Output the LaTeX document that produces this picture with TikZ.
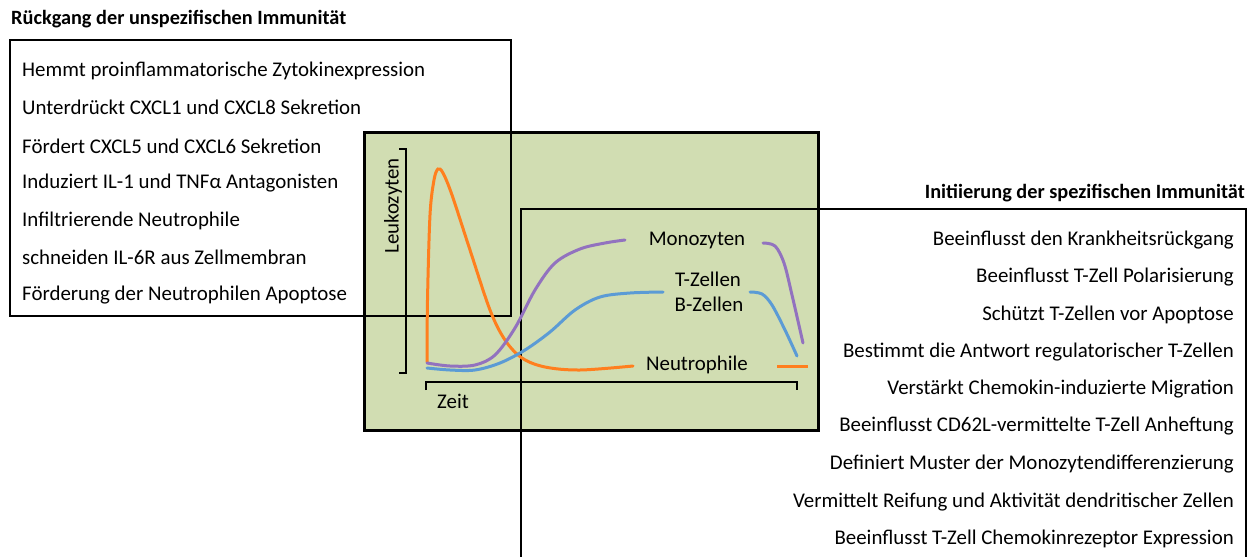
\documentclass[tikz,border=0pt]{standalone}
\usepackage{fontspec}
\setmainfont{Carlito}
\definecolor{boxgreen}{HTML}{D1DDB2}
\definecolor{corange}{HTML}{FF7F1E}
\definecolor{cpurple}{HTML}{9272BF}
\definecolor{cblue}{HTML}{5B9BD5}
\begin{document}
\begin{tikzpicture}[x=1pt,y=-1pt,
  txt/.style={inner sep=0pt,font=\fontsize{20.9}{22}\selectfont},
  ltxt/.style={txt,anchor=west},
  rtxt/.style={txt,anchor=east},
  ttl/.style={inner sep=0pt,font=\fontsize{20.3}{22}\selectfont\bfseries},
  frame/.style={draw=black,line width=2pt},
  curve/.style={line width=3pt,line cap=round},
  axis/.style={draw=black,line width=2.5pt}]
\useasboundingbox (0,0) rectangle (1256,557);
% green chart box
\draw[fill=boxgreen,draw=black,line width=3pt] (364,132) rectangle (818,430);
% left frame
\draw[frame] (10,40) rectangle (511,316);
% right frame
\draw[frame] (521,557) -- (521,209) -- (1246,209) -- (1246,557);
% axes
\coordinate (ytop) at (399,149);
\coordinate (ybot) at (399,373);
\draw[axis] (ytop) -- (406,149) -- (406,373) -- (ybot);
\coordinate (xl) at (426,390);
\coordinate (xr) at (797,390);
\draw[axis] (xl) -- (426,382) -- (797,382) -- (xr);
\node[txt,rotate=90] (leuko) at (393,206) {Leukozyten};
\node[txt] (zeit) at (453,401) {Zeit};
% curves
\draw[curve,corange] plot[smooth,tension=0.55] coordinates {(427,362) (427.5,300) (430,215) (434,180) (438,169) (443,173) (452,195) (470,250) (490,310) (505,340) (522,358) (545,367) (580,370) (633,366)};
\draw[curve,cpurple] plot[smooth,tension=0.55] coordinates {(427,363) (450,366) (475,365) (495,355) (515,328) (535,290) (555,263) (580,249) (605,243) (625,240)};
\draw[curve,cblue] plot[smooth,tension=0.55] coordinates {(427,368) (450,370) (475,370) (500,363) (525,350) (550,332) (575,310) (600,297) (630,293) (663,292)};
\draw[curve,cpurple] plot[smooth,tension=0.55] coordinates {(763,243) (775,246) (784,263) (792,295) (803,343)};
\draw[curve,cblue] plot[smooth,tension=0.55] coordinates {(750,292) (762,294) (772,305) (785,330) (797,356)};
\draw[curve,corange,line cap=butt] (777,366) -- (808,366);
% curve labels
\node[txt] (mono) at (697,240) {Monozyten};
\node[txt] (tz) at (708,279) {T-Zellen};
\node[txt] (bz) at (709,304) {B-Zellen};
\node[txt] (neut) at (697,365) {Neutrophile};
% titles
\node[ttl,anchor=west] (t1) at (11,19) {Rückgang der unspezifischen Immunität};
\node[ttl,anchor=east] (t2) at (1245,193) {Initiierung der spezifischen Immunität};
% left texts
\node[ltxt] (l1) at (22,71) {Hemmt proinflammatorische Zytokinexpression};
\node[ltxt] (l2) at (22,107) {Unterdrückt CXCL1 und CXCL8 Sekretion};
\node[ltxt] (l3) at (22,146) {Fördert CXCL5 und CXCL6 Sekretion};
\node[ltxt] (l4) at (22,183) {Induziert IL-1 und TNFα Antagonisten};
\node[ltxt] (l5) at (22,221) {Infiltrierende Neutrophile};
\node[ltxt] (l6) at (22,257) {schneiden IL-6R aus Zellmembran};
\node[ltxt] (l7) at (22,295) {Förderung der Neutrophilen Apoptose};
% right texts
\node[rtxt] (r1) at (1234,240) {Beeinflusst den Krankheitsrückgang};
\node[rtxt] (r2) at (1234,277) {Beeinflusst T-Zell Polarisierung};
\node[rtxt] (r3) at (1234,315) {Schützt T-Zellen vor Apoptose};
\node[rtxt] (r4) at (1234,352) {Bestimmt die Antwort regulatorischer T-Zellen};
\node[rtxt] (r5) at (1234,389) {Verstärkt Chemokin-induzierte Migration};
\node[rtxt] (r6) at (1234,426) {Beeinflusst CD62L-vermittelte T-Zell Anheftung};
\node[rtxt] (r7) at (1234,464) {Definiert Muster der Monozytendifferenzierung};
\node[rtxt] (r8) at (1234,502) {Vermittelt Reifung und Aktivität dendritischer Zellen};
\node[rtxt] (r9) at (1234,539) {Beeinflusst T-Zell Chemokinrezeptor Expression};
\end{tikzpicture}
\end{document}
